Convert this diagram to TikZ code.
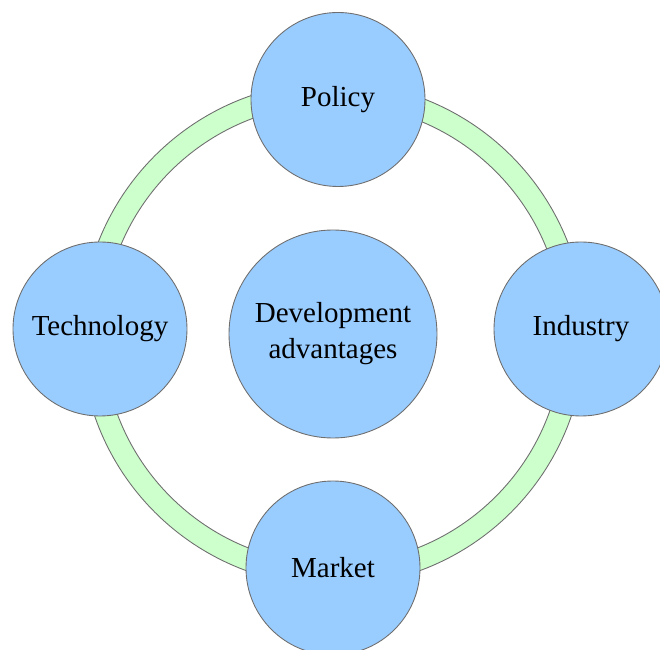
\documentclass[tikz,border=0pt]{standalone}
\usepackage{fontspec}
\setmainfont{Liberation Serif}
\usepackage{tikz}
\usetikzlibrary{positioning}

\definecolor{bubbleblue}{HTML}{99CCFF}
\definecolor{ringgreen}{HTML}{CCFFCC}
\definecolor{edgegray}{HTML}{6E6E6E}

\begin{document}
\begin{tikzpicture}[
    factor/.style={circle, draw=edgegray, fill=bubbleblue, line width=0.5pt, minimum size=3.48cm, inner sep=0pt, align=center, font=\fontsize{16.5}{20.5}\selectfont},
    core/.style={factor, minimum size=4.16cm},
    ring/.style={draw=edgegray, fill=ringgreen, line width=0.5pt, even odd rule}
  ]
    \useasboundingbox (-6.66,-6.32) rectangle (6.54,6.68);

    % Green ring behind the factors
    \coordinate (hub) at (0,0);
    \path[ring] (hub) circle (5.04cm) (hub) circle (4.60cm);

    % Centre node
    \node[core] (adv) at (hub) {Development\\advantages};

    % Factors on the ring
    \node[factor] (policy) at (0.10,4.69) {Policy};
    \node[factor] (tech) at (-4.66,0.10) {Technology};
    \node[factor] (industry) at (4.96,0.10) {Industry};
    \node[factor] (market) at (0,-4.68) {Market};
\end{tikzpicture}
\end{document}
